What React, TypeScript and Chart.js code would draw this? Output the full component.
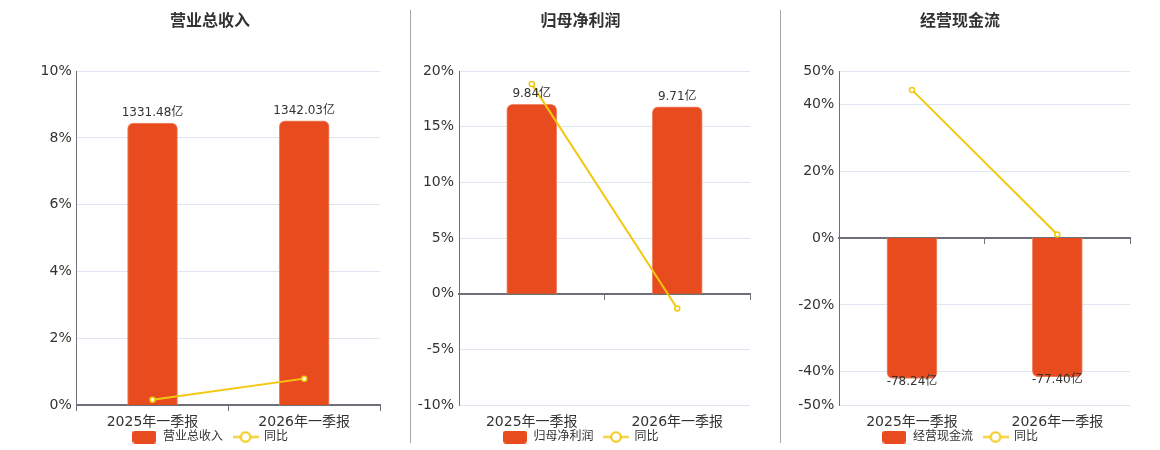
import React, { useEffect, useRef } from 'react';
import { Chart, registerables } from 'chart.js';

Chart.register(...registerables);

const categories = ['2025年一季报', '2026年一季报'];

const revenueValues = [1331.48, 1342.03];
const revenueYoY = [0.16, 0.79];
const revenueTicks = [0, 2, 4, 6, 8, 10];

const profitValues = [9.84, 9.71];
const profitYoY = [18.86, -1.32];
const profitTicks = [-10, -5, 0, 5, 10, 15, 20];

const cashValues = [-78.24, -77.4];
const cashYoY = [44.4, 1.07];
const cashTicks = [-50, -40, -20, 0, 20, 40, 50];

const titles = ['营业总收入', '归母净利润', '经营现金流'];
const yoyName = '同比';

const BAR_COLOR = '#e84c1e';
const LINE_COLOR = '#f2c80f';
const AXIS_COLOR = '#6e7079';
const GRID_COLOR = '#e0e6f1';
const TEXT_COLOR = '#333333';
const FONT = '"DejaVu Sans", "Noto Sans CJK SC", sans-serif';
const CANVAS_H = 464;

type Panel = {
  title: string;
  values: number[];
  yoy: number[];
  ticks: number[];
  barMin: number;
  barMax: number;
  left: number;
  width: number;
  padL: number;
  axisW: number;
};

const panels: Panel[] = [
  { title: titles[0], values: revenueValues, yoy: revenueYoY, ticks: revenueTicks, barMin: 0, barMax: 1577, left: 8, width: 392, padL: 32, axisW: 36.7 },
  { title: titles[1], values: profitValues, yoy: profitYoY, ticks: profitTicks, barMin: -5.78, barMax: 11.56, left: 411, width: 359, padL: 0, axisW: 48 },
  { title: titles[2], values: cashValues, yoy: cashYoY, ticks: cashTicks, barMin: -93, barMax: 93, left: 781, width: 369, padL: 9, axisW: 49.3 },
];

function makeBarIcon(): HTMLCanvasElement {
  const c = document.createElement('canvas');
  c.width = 24;
  c.height = 13;
  const ctx = c.getContext('2d')!;
  ctx.fillStyle = BAR_COLOR;
  ctx.beginPath();
  (ctx as any).roundRect(0, 0, 24, 13, 3);
  ctx.fill();
  return c;
}

function makeLineIcon(): HTMLCanvasElement {
  const c = document.createElement('canvas');
  c.width = 26;
  c.height = 13;
  const ctx = c.getContext('2d')!;
  ctx.strokeStyle = LINE_COLOR;
  ctx.lineWidth = 2;
  ctx.beginPath();
  ctx.moveTo(0, 6.5);
  ctx.lineTo(26, 6.5);
  ctx.stroke();
  ctx.beginPath();
  ctx.arc(13, 6.5, 4.8, 0, Math.PI * 2);
  ctx.fillStyle = '#ffffff';
  ctx.fill();
  ctx.stroke();
  return c;
}

const barLabelPlugin = {
  id: 'barLabels',
  afterDatasetsDraw(chart: any) {
    const meta = chart.getDatasetMeta(0);
    const data = chart.data.datasets[0].data as number[];
    const ctx = chart.ctx as CanvasRenderingContext2D;
    ctx.save();
    ctx.font = `12px ${FONT}`;
    ctx.fillStyle = TEXT_COLOR;
    ctx.textAlign = 'center';
    ctx.textBaseline = 'middle';
    meta.data.forEach((el: any, i: number) => {
      const v = data[i];
      const y = v >= 0 ? el.y - 10 : el.y + 3;
      ctx.fillText(v.toFixed(2) + '亿', el.x, y);
    });
    ctx.restore();
  },
};

// pulls the legend row up closer to the category labels
const legendShiftPlugin = {
  id: 'legendShift',
  afterLayout(chart: any) {
    const lg = chart.legend;
    if (!lg) return;
    const d = -11;
    lg.top += d;
    lg.bottom += d;
  },
};

function ChartPanel({ p }: { p: Panel }) {
  const ref = useRef<HTMLCanvasElement | null>(null);
  useEffect(() => {
    if (!ref.current) return;
    const barIcon = makeBarIcon();
    const lineIcon = makeLineIcon();
    const chart = new Chart(ref.current, {
      type: 'bar',
      data: {
        labels: categories,
        datasets: [
          {
            type: 'bar',
            label: p.title,
            data: p.values,
            yAxisID: 'yb',
            xAxisID: 'x',
            backgroundColor: BAR_COLOR,
            borderColor: '#f08a6c',
            borderWidth: 1,
            borderRadius: 6,
            barThickness: 50,
            order: 1,
          } as any,
          {
            type: 'line',
            label: yoyName,
            data: p.yoy,
            yAxisID: 'y',
            xAxisID: 'x',
            borderColor: LINE_COLOR,
            borderWidth: 2,
            pointRadius: 2.5,
            pointBorderWidth: 1.5,
            pointBackgroundColor: '#ffffff',
            pointBorderColor: LINE_COLOR,
            tension: 0,
            order: 0,
          } as any,
        ],
      },
      options: {
        responsive: false,
        animation: false,
        layout: { padding: { left: p.padL, right: 20, top: 0, bottom: 0 } },
        plugins: {
          tooltip: { enabled: false },
          title: {
            display: true,
            text: p.title,
            color: TEXT_COLOR,
            font: { family: FONT, size: 16, weight: 'bold' },
            padding: { top: 12, bottom: 40 },
          },
          legend: {
            display: true,
            position: 'bottom',
            labels: {
              usePointStyle: true,
              pointStyleWidth: 25,
              padding: 10,
              color: TEXT_COLOR,
              font: { family: FONT, size: 12 },
              generateLabels: () => [
                { text: p.title, pointStyle: barIcon as any, fillStyle: BAR_COLOR, strokeStyle: BAR_COLOR, lineWidth: 0, hidden: false, datasetIndex: 0, fontColor: TEXT_COLOR },
                { text: yoyName, pointStyle: lineIcon as any, fillStyle: '#fff', strokeStyle: LINE_COLOR, lineWidth: 0, hidden: false, datasetIndex: 1, fontColor: TEXT_COLOR },
              ],
            },
          },
        },
        scales: {
          x: {
            type: 'category',
            offset: true,
            grid: { display: false, drawTicks: false },
            border: { display: false },
            ticks: { color: TEXT_COLOR, font: { family: FONT, size: 14 }, padding: 9, maxRotation: 0 },
            afterFit: (s: any) => { s.height = 27; },
          },
          x2: {
            type: 'category',
            labels: categories,
            position: { y: 0 } as any,
            offset: true,
            grid: { offset: true, drawOnChartArea: false, drawTicks: true, tickLength: 5, color: AXIS_COLOR, lineWidth: 1 },
            border: { display: true, color: AXIS_COLOR, width: 2 },
            ticks: { display: false },
          },
          y: {
            type: 'linear',
            position: 'left',
            min: p.ticks[0],
            max: p.ticks[p.ticks.length - 1],
            afterBuildTicks: (s: any) => { s.ticks = p.ticks.map((v) => ({ value: v })); },
            afterFit: (s: any) => { s.width = p.axisW; },
            grid: { color: GRID_COLOR, lineWidth: 1, drawTicks: false },
            border: { display: true, color: AXIS_COLOR, width: 1 },
            ticks: {
              color: TEXT_COLOR,
              padding: 5,
              font: { family: FONT, size: 14 },
              callback: (v: any) => `${v}%`,
            },
          },
          yb: {
            type: 'linear',
            display: false,
            position: 'right',
            min: p.barMin,
            max: p.barMax,
          },
        },
      } as any,
      plugins: [barLabelPlugin, legendShiftPlugin],
    });
    return () => chart.destroy();
  }, [p]);
  return (
    <canvas
      ref={ref}
      width={p.width}
      height={CANVAS_H}
      style={{ position: 'absolute', left: p.left, top: 0, width: p.width, height: CANVAS_H }}
    />
  );
}

export default function App() {
  return (
    <div style={{ position: 'fixed', left: 0, top: 0, width: 1160, height: 450, overflow: 'hidden', background: '#ffffff' }}>
      {panels.map((p, i) => (
        <ChartPanel key={i} p={p} />
      ))}
      <div style={{ position: 'absolute', left: 410, top: 10, width: 1, height: 433, background: '#a8a8a8' }} />
      <div style={{ position: 'absolute', left: 780, top: 10, width: 1, height: 433, background: '#a8a8a8' }} />
    </div>
  );
}
